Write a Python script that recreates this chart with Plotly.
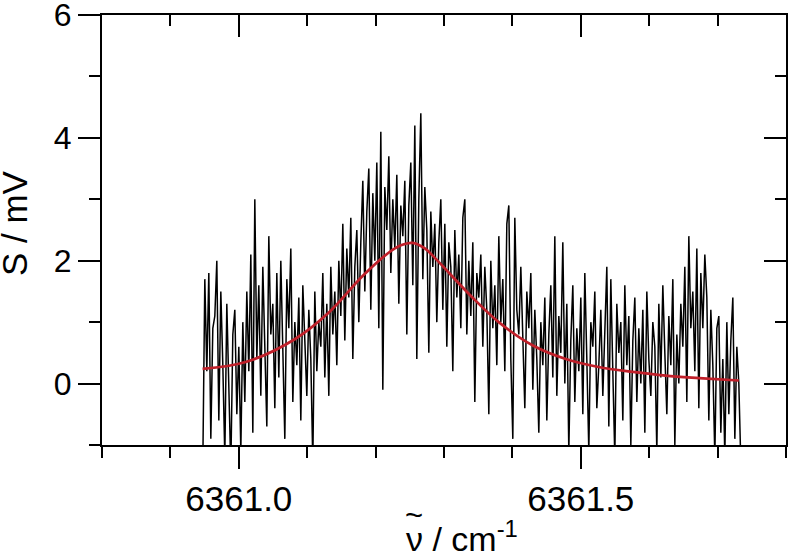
import numpy as np
import plotly.graph_objects as go

# measured signal, sampled on an even wavenumber grid
nu_start = 6360.9474
nu_step = 0.002924
signal = [
    -1.3, 1.7, 0.2, 1.8, -0.9, 0.9, 1.1, 2.0, -0.6, 1.5,
    0.3, -1.2, 1.3, 0.1, -1.4, 0.8, 1.2, -0.5, 0.6, -1.1,
    1.0, -0.3, 1.5, 0.2, 2.1, -0.8, 3.0, 0.4, 1.6, -0.2,
    1.9, 0.6, -0.7, 2.4, 0.8, 1.3, -0.4, 1.8, 0.1, 2.0,
    0.5, -0.9, 1.7, 0.9, 2.2, -0.3, 1.0, 0.3, 1.4, -0.6,
    1.6, 0.7, -0.2, 1.2, 0.4, -1.3, 1.5, 0.2, 1.0, 0.6,
    1.8, 0.1, 1.3, -0.2, 1.9, 0.8, 1.5, 0.3, 2.0, 1.1,
    2.6, 0.7, 2.2, 1.4, 2.7, 0.4, 1.9, 2.5, 1.0, 2.3,
    3.3, 1.5, 2.8, 3.5, 1.2, 3.1, 2.0, 3.6, 0.9, 4.1,
    -0.1, 3.2, 2.5, 3.7, 1.8, 3.0, 2.2, 3.4, 1.3, 2.9,
    2.4, 3.3, 0.8, 2.9, 3.6, 1.6, 4.2, 0.4, 3.0, 4.4,
    1.7, 3.2, 2.5, 0.5, 2.8, 1.9, 2.6, 1.0, 2.3, 3.0,
    1.2, 2.6, 0.6, 2.3, 1.9, 0.2, 2.5, 1.4, 2.1, 0.9,
    2.7, 3.0, 0.8, 2.0, 1.1, 2.3, -0.3, 1.8, 1.4, 2.1,
    0.6, 1.9, 1.2, -0.5, 2.0, 0.9, 1.6, 0.3, 2.4, 1.0,
    1.7, 0.2, 2.6, 2.9, 0.4, -0.9, 2.7, 1.2, 0.8, 1.9,
    0.6, -0.4, 1.5, 0.9, 1.8, -0.1, 1.2, 0.4, -0.8, 1.0,
    0.3, 1.4, -0.6, 0.8, 1.6, 0.1, 2.4, -0.2, 1.1, 0.5,
    2.3, 0.0, 1.3, -1.1, 0.7, 1.6, -0.3, 0.9, 0.2, 1.4,
    -0.5, 1.8, 0.4, -1.1, 1.0, 0.6, 1.5, -0.4, 0.3, 1.2,
    -0.2, 0.8, 1.9, -0.7, 1.7, 0.2, -1.2, 1.3, 0.5, 1.0,
    -0.6, 1.6, 0.3, 1.1, -1.0, 0.7, 1.4, -0.3, 0.9, 0.0,
    1.2, -0.8, 1.5, 0.4, -0.2, 1.0, 0.6, -1.1, 1.3, 0.1,
    1.6, 0.5, -0.5, 1.1, 0.3, 1.7, -1.0, 0.8, 0.0, 1.3,
    0.6, 1.9, -0.3, 2.4, 0.9, 1.5, 0.2, 2.2, -0.4, 1.8,
    0.9, 2.1, 1.4, -0.6, 1.2, 0.3, -1.2, 0.9, 1.1, -0.8,
    0.4, -1.2, 1.0, -0.5, 0.7, 1.4, -0.9, 0.6, 0.0, -1.3,
]
nu = nu_start + nu_step * np.arange(len(signal))

# fitted profile (red)
fit_nu = [6360.947, 6361.010, 6361.083, 6361.132, 6361.181, 6361.219, 6361.237,
          6361.254, 6361.272, 6361.288, 6361.339, 6361.380, 6361.430, 6361.478,
          6361.526, 6361.576, 6361.624, 6361.673, 6361.731]
fit_s = [0.24, 0.35, 0.73, 1.16, 1.75, 2.13, 2.25,
         2.29, 2.20, 2.03, 1.43, 1.00, 0.62, 0.40,
         0.27, 0.19, 0.13, 0.09, 0.05]

xr = [6360.8, 6361.8]
yr = [-1, 6]

fig = go.Figure()
# invisible trace so the top/right frame axes get drawn
fig.add_trace(go.Scatter(x=[6361.0], y=[0], xaxis='x2', yaxis='y2', mode='markers',
                         marker=dict(opacity=0), hoverinfo='skip', showlegend=False))
fig.add_trace(go.Scatter(x=nu, y=signal, mode='lines',
                         line=dict(color='black', width=1.5), showlegend=False))
fig.add_trace(go.Scatter(x=fit_nu, y=fit_s, mode='lines', line_shape='spline',
                         line=dict(color='#c0202a', width=2.7), showlegend=False))

font = 'Liberation Sans, Arial, sans-serif'

frame = dict(showgrid=False, zeroline=False, automargin=False,
             showline=True, linecolor='black', linewidth=2,
             ticklen=22, tickwidth=2, tickcolor='black')

fig.update_layout(
    width=788, height=558,
    margin=dict(l=102, r=2, t=15, b=113),
    paper_bgcolor='white', plot_bgcolor='white',
    font=dict(family=font, color='black'),
    xaxis=dict(range=xr, ticks='outside', tick0=6361.0, dtick=0.5, tickformat='.1f',
               minor=dict(ticks='outside', ticklen=11, tickwidth=2, dtick=0.1,
                          tick0=6361.0, tickcolor='black'),
               tickfont=dict(size=35), ticklabeloverflow='allow', **frame),
    yaxis=dict(range=yr, ticks='outside', tick0=0, dtick=2,
               minor=dict(ticks='outside', ticklen=11, tickwidth=2, dtick=1,
                          tick0=0, tickcolor='black'),
               tickfont=dict(size=32), ticklabeloverflow='allow', **frame),
    xaxis2=dict(range=xr, overlaying='x', side='top', anchor='y',
                showticklabels=False, ticks='inside', tick0=6361.0, dtick=0.5,
                minor=dict(ticks='inside', ticklen=11, tickwidth=2, dtick=0.1,
                           tick0=6361.0, tickcolor='black'), **frame),
    yaxis2=dict(range=yr, overlaying='y', side='right', anchor='x',
                showticklabels=False, ticks='inside', tick0=0, dtick=2,
                minor=dict(ticks='inside', ticklen=11, tickwidth=2, dtick=1,
                           tick0=0, tickcolor='black'), **frame),
    annotations=[
        dict(text='S / mV', textangle=-90, xref='paper', yref='paper',
             x=-0.1287, y=0.516, xanchor='center', yanchor='middle',
             showarrow=False, font=dict(size=35)),
        dict(text='ν / cm<sup>-1</sup>', xref='paper', yref='paper',
             x=0.4415, y=-0.212, xanchor='left', yanchor='middle',
             showarrow=False, font=dict(size=34)),
        dict(text='~', xref='paper', yref='paper',
             x=0.4555, y=-0.165, xanchor='center', yanchor='middle',
             showarrow=False, font=dict(size=31)),
    ],
)

# drop the browser's default page margin so the figure sits at the window corner
fig.write_html("out.html", config={'displayModeBar': False},
               post_script="document.body.style.margin='0';")
